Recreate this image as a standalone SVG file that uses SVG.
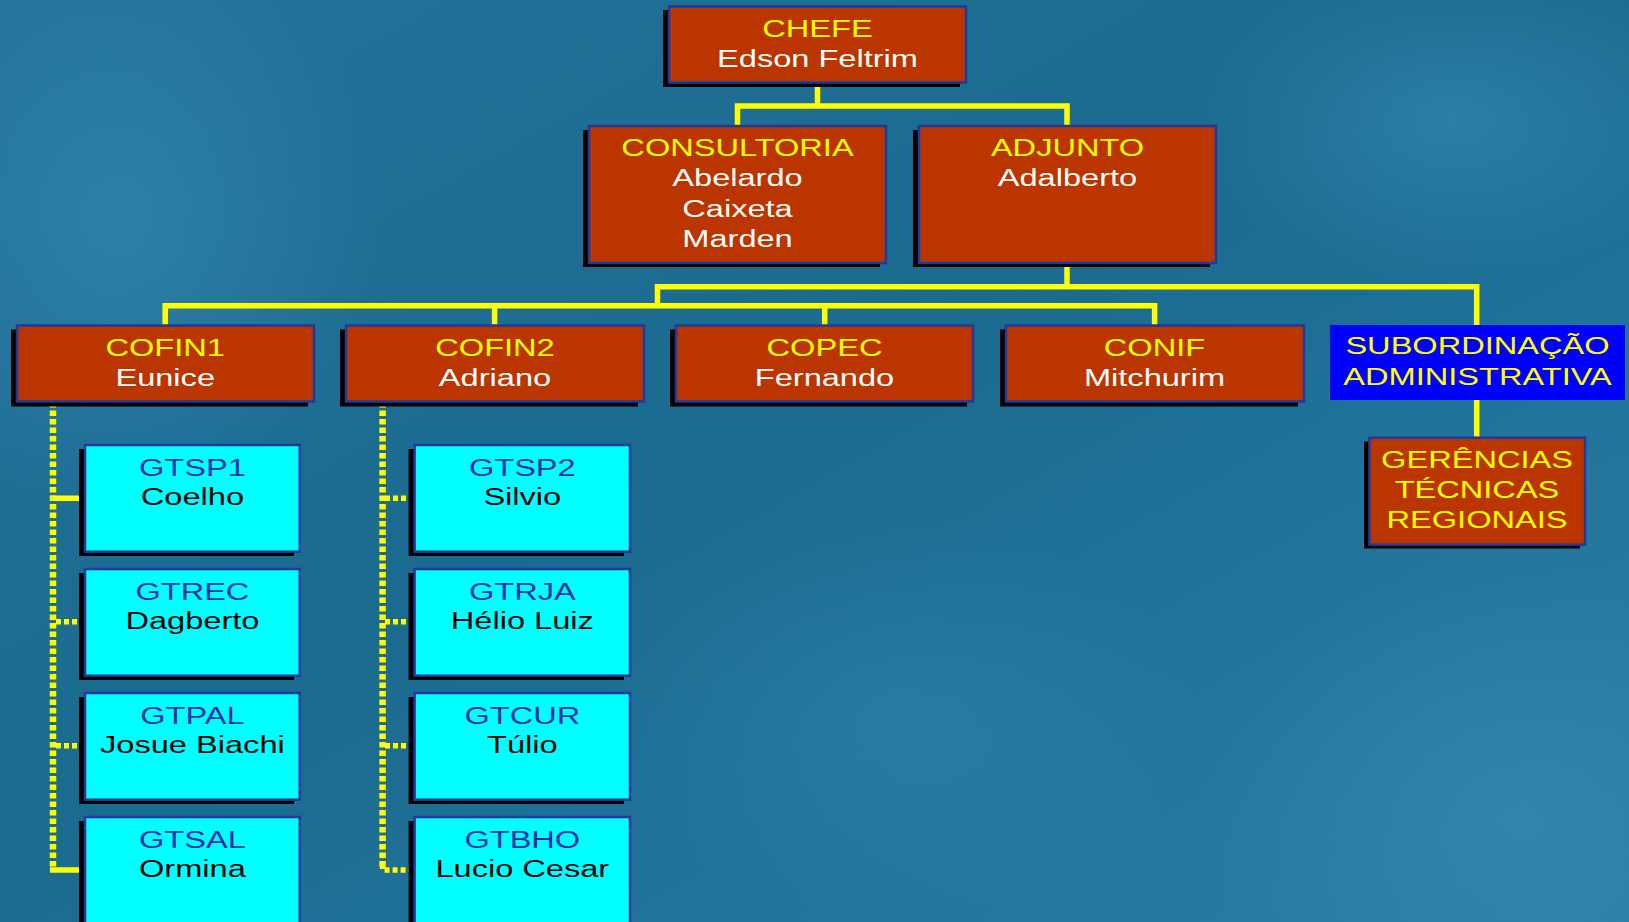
<svg xmlns="http://www.w3.org/2000/svg" width="1629" height="922" viewBox="0 0 1629 922">
<style>
.sh{fill:#000}
.br{fill:#bb3500;stroke:#1e3a9c;stroke-width:2.5}
.cy{fill:#00ffff;stroke:#1e3a9c;stroke-width:2.5}
.bl{fill:#0000ff}
text{font-family:"Liberation Sans",Arial,sans-serif;font-size:24.5px;text-anchor:middle}
.ty{fill:#ffff00}
.tw{fill:#ffffff}
.tb{fill:#1a30a8}
.tk{fill:#000000}
.c{fill:none;stroke:#ffff00;stroke-width:5.5;stroke-linejoin:miter}
.d{fill:none;stroke:#ffff00;stroke-width:5.5;stroke-dasharray:5 3}
.dv{fill:none;stroke:#ffff00;stroke-width:6.5;stroke-dasharray:5.5 3}
</style>
<defs>
<linearGradient id="bg" x1="0" y1="0" x2="1" y2="1">
<stop offset="0" stop-color="#23739a"/>
<stop offset="0.45" stop-color="#1b6a90"/>
<stop offset="1" stop-color="#2a7fa5"/>
</linearGradient>
<radialGradient id="g1" cx="0.5" cy="0.5" r="0.5">
<stop offset="0" stop-color="#3a8db4" stop-opacity="0.55"/>
<stop offset="1" stop-color="#3a8db4" stop-opacity="0"/>
</radialGradient>
</defs>
<rect width="1629" height="922" fill="url(#bg)"/>
<ellipse cx="120" cy="220" rx="260" ry="300" fill="url(#g1)"/>
<ellipse cx="1520" cy="820" rx="320" ry="260" fill="url(#g1)"/>
<ellipse cx="1450" cy="120" rx="260" ry="160" fill="url(#g1)"/>
<ellipse cx="900" cy="720" rx="300" ry="200" fill="url(#g1)" opacity="0.6"/>

<g id="connectors">
<path class="c" d="M817.5 83 V106 M737.5 126 V106 H1067 V126"/>
<path class="c" d="M1067 263 V286.7 M657.5 306 V286.7 H1476.7 V325"/>
<path class="c" d="M165.2 325 V305.7 H1154.6 V325 M494.6 305.7 V325 M824.7 305.7 V325"/>
<path class="c" d="M1476.7 400 V438"/>
<path class="dv" d="M53 402 V870"/>
<path class="c" d="M50 498.3 H85 M50 870 H85"/>
<path class="d" d="M56 621.7 H85 M56 745.7 H85"/>
<path class="dv" d="M382.6 402 V867"/>
<path class="d" d="M382.6 864 V870 H414.6 M385 498.3 H414.6 M385 621.7 H414.6 M385 745.7 H414.6"/>
</g>

<g id="chefe">
<rect class="sh" x="663" y="10" width="297" height="77"/>
<rect class="br" x="669" y="6.5" width="297" height="76"/>
<text class="ty" transform="translate(817.5 36.7) scale(1.33 1)">CHEFE</text>
<text class="tw" transform="translate(817.5 66.7) scale(1.33 1)">Edson Feltrim</text>
</g>

<g id="consultoria">
<rect class="sh" x="583" y="130" width="297" height="137"/>
<rect class="br" x="589" y="126" width="297" height="137"/>
<text class="ty" transform="translate(737.5 156) scale(1.33 1)">CONSULTORIA</text>
<text class="tw" transform="translate(737.5 186.3) scale(1.33 1)">Abelardo</text>
<text class="tw" transform="translate(737.5 216.5) scale(1.33 1)">Caixeta</text>
<text class="tw" transform="translate(737.5 246.7) scale(1.33 1)">Marden</text>
</g>

<g id="adjunto">
<rect class="sh" x="913" y="130" width="297" height="137"/>
<rect class="br" x="919" y="126" width="297" height="137"/>
<text class="ty" transform="translate(1067.5 156) scale(1.33 1)">ADJUNTO</text>
<text class="tw" transform="translate(1067.5 186.3) scale(1.33 1)">Adalberto</text>
</g>

<g id="cofin1">
<rect class="sh" x="11" y="329.5" width="297" height="77"/>
<rect class="br" x="17" y="325.5" width="297" height="76"/>
<text class="ty" transform="translate(165.2 355.7) scale(1.33 1)">COFIN1</text>
<text class="tw" transform="translate(165.2 385.7) scale(1.33 1)">Eunice</text>
</g>

<g id="cofin2">
<rect class="sh" x="340" y="329.5" width="298" height="77"/>
<rect class="br" x="346" y="325.5" width="298" height="76"/>
<text class="ty" transform="translate(495 355.7) scale(1.33 1)">COFIN2</text>
<text class="tw" transform="translate(495 385.7) scale(1.33 1)">Adriano</text>
</g>

<g id="copec">
<rect class="sh" x="670" y="329.5" width="297" height="77"/>
<rect class="br" x="676" y="325.5" width="297" height="76"/>
<text class="ty" transform="translate(824.5 355.7) scale(1.33 1)">COPEC</text>
<text class="tw" transform="translate(824.5 385.7) scale(1.33 1)">Fernando</text>
</g>

<g id="conif">
<rect class="sh" x="1000" y="329.5" width="298" height="77"/>
<rect class="br" x="1006" y="325.5" width="298" height="76"/>
<text class="ty" transform="translate(1154.5 355.7) scale(1.33 1)">CONIF</text>
<text class="tw" transform="translate(1154.5 385.7) scale(1.33 1)">Mitchurim</text>
</g>

<g id="subordinacao">
<rect class="bl" x="1330" y="325" width="295" height="75"/>
<text class="ty" transform="translate(1477.5 354.3) scale(1.33 1)">SUBORDINAÇÃO</text>
<text class="ty" transform="translate(1477.5 385) scale(1.33 1)">ADMINISTRATIVA</text>
</g>

<g id="gerencias">
<rect class="sh" x="1364" y="441.5" width="216" height="107"/>
<rect class="br" x="1369.5" y="437.7" width="215.5" height="107"/>
<text class="ty" transform="translate(1477 468.3) scale(1.33 1)">GERÊNCIAS</text>
<text class="ty" transform="translate(1477 498.3) scale(1.33 1)">TÉCNICAS</text>
<text class="ty" transform="translate(1477 528.3) scale(1.33 1)">REGIONAIS</text>
</g>

<g id="gtsp1">
<rect class="sh" x="79" y="449" width="215" height="107"/>
<rect class="cy" x="85" y="445" width="214.7" height="106.7"/>
<text class="tb" transform="translate(192.4 475.7) scale(1.33 1)">GTSP1</text>
<text class="tk" transform="translate(192.4 505) scale(1.33 1)">Coelho</text>
</g>
<g id="gtrec">
<rect class="sh" x="79" y="573" width="215" height="107"/>
<rect class="cy" x="85" y="569" width="214.7" height="106.7"/>
<text class="tb" transform="translate(192.4 599.7) scale(1.33 1)">GTREC</text>
<text class="tk" transform="translate(192.4 629) scale(1.33 1)">Dagberto</text>
</g>
<g id="gtpal">
<rect class="sh" x="79" y="697" width="215" height="107"/>
<rect class="cy" x="85" y="693" width="214.7" height="106.7"/>
<text class="tb" transform="translate(192.4 723.7) scale(1.33 1)">GTPAL</text>
<text class="tk" transform="translate(192.4 753) scale(1.33 1)">Josue Biachi</text>
</g>
<g id="gtsal">
<rect class="sh" x="79" y="821" width="215" height="107"/>
<rect class="cy" x="85" y="817" width="214.7" height="106.7"/>
<text class="tb" transform="translate(192.4 847.7) scale(1.33 1)">GTSAL</text>
<text class="tk" transform="translate(192.4 877) scale(1.33 1)">Ormina</text>
</g>

<g id="gtsp2">
<rect class="sh" x="408.6" y="449" width="215.4" height="107"/>
<rect class="cy" x="414.6" y="445" width="215.4" height="106.7"/>
<text class="tb" transform="translate(522.3 475.7) scale(1.33 1)">GTSP2</text>
<text class="tk" transform="translate(522.3 505) scale(1.33 1)">Silvio</text>
</g>
<g id="gtrja">
<rect class="sh" x="408.6" y="573" width="215.4" height="107"/>
<rect class="cy" x="414.6" y="569" width="215.4" height="106.7"/>
<text class="tb" transform="translate(522.3 599.7) scale(1.33 1)">GTRJA</text>
<text class="tk" transform="translate(522.3 629) scale(1.33 1)">Hélio Luiz</text>
</g>
<g id="gtcur">
<rect class="sh" x="408.6" y="697" width="215.4" height="107"/>
<rect class="cy" x="414.6" y="693" width="215.4" height="106.7"/>
<text class="tb" transform="translate(522.3 723.7) scale(1.33 1)">GTCUR</text>
<text class="tk" transform="translate(522.3 753) scale(1.33 1)">Túlio</text>
</g>
<g id="gtbho">
<rect class="sh" x="408.6" y="821" width="215.4" height="107"/>
<rect class="cy" x="414.6" y="817" width="215.4" height="106.7"/>
<text class="tb" transform="translate(522.3 847.7) scale(1.33 1)">GTBHO</text>
<text class="tk" transform="translate(522.3 877) scale(1.33 1)">Lucio Cesar</text>
</g>
</svg>
